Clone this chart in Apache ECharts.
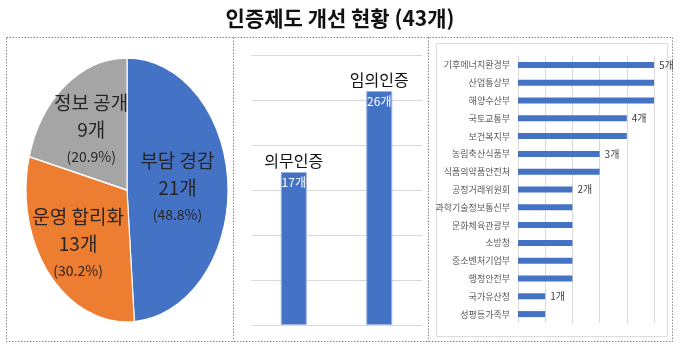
<!DOCTYPE html>
<html><head><meta charset="utf-8">
<script src="https://cdn.jsdelivr.net/npm/echarts@6/dist/echarts.min.js"></script>
<style>html,body{margin:0;padding:0;background:#fff}#c{width:680px;height:351px}</style>
</head><body><div id="c"></div>
<script>
const titleText = '인증제도 개선 현황 (43개)';
const pieNames = ['부담 경감', '운영 합리화', '정보 공개'];
const pieValues = [21, 13, 9];
const certCategories = ['의무인증', '임의인증'];
const certValues = [17, 26];
const ministryNames = ['기후에너지환경부', '산업통상부', '해양수산부', '국토교통부', '보건복지부', '농림축산식품부', '식품의약품안전처', '공정거래위원회', '과학기술정보통신부', '문화체육관광부', '소방청', '중소벤처기업부', '행정안전부', '국가유산청', '성평등가족부'];
const ministryValues = [5, 5, 5, 4, 4, 3, 3, 2, 2, 2, 2, 2, 2, 1, 1];
const ministryLabeled = [true, false, false, true, false, true, false, true, false, false, false, false, false, true, false];

const FONT = '"Noto Sans CJK KR", "Noto Sans", sans-serif';
const pieColors = ['#4472C4', '#ED7D31', '#A5A5A5'];
const pieLabelRadius = [0.5, 0.63, 0.58];
const PIE = {cx: 127, cy: 190, rx: 101, ry: 132};
const total = pieValues.reduce((a, b) => a + b, 0);

function renderPie(params, api) {
  const i = params.dataIndex;
  let before = 0;
  for (let k = 0; k < i; k++) before += pieValues[k];
  const v = api.value(0);
  const a0 = -Math.PI / 2 + before / total * 2 * Math.PI;
  const a1 = a0 + v / total * 2 * Math.PI;
  const mid = (a0 + a1) / 2;
  const f = pieLabelRadius[i];
  const lx = PIE.cx + Math.cos(mid) * PIE.rx * f;
  const ly = PIE.cy + Math.sin(mid) * PIE.ry * f;
  const pct = (v / total * 100).toFixed(1);
  return {
    type: 'group',
    children: [
      {
        type: 'sector', x: PIE.cx, y: PIE.cy, scaleX: PIE.rx / PIE.ry,
        shape: {cx: 0, cy: 0, r0: 0, r: PIE.ry, startAngle: a0, endAngle: a1, clockwise: true},
        style: {fill: pieColors[i], stroke: '#fff', lineWidth: 1.5, strokeNoScale: true}
      },
      {
        type: 'text', x: lx, y: ly, z2: 10,
        style: {
          text: '{a|' + pieNames[i] + '}\n{a|' + v + '개}\n{b|(' + pct + '%)}',
          align: 'center', verticalAlign: 'middle',
          rich: {
            a: {fontSize: 19, lineHeight: 27, fill: '#262626', fontFamily: FONT, align: 'center'},
            b: {fontSize: 14, lineHeight: 26, fill: '#262626', fontFamily: FONT, align: 'center'}
          }
        }
      }
    ]
  };
}

const chart = echarts.init(document.getElementById('c'), null, {renderer: 'canvas'});
chart.setOption({
  animation: false,
  backgroundColor: '#fff',
  textStyle: {fontFamily: FONT},
  graphic: [
    {type: 'text', x: 340, y: 18, style: {text: titleText, fontSize: 21, fontWeight: 'bold', fontFamily: FONT, fill: '#111', align: 'center', verticalAlign: 'middle'}},
    {type: 'rect', shape: {x: 6.5, y: 37.5, width: 666, height: 304}, style: {fill: 'none', stroke: '#8a8a8a', lineWidth: 1, lineDash: [1.5, 1.5]}},
    {type: 'line', shape: {x1: 233.5, y1: 37.5, x2: 233.5, y2: 341.5}, style: {stroke: '#8a8a8a', lineWidth: 1, lineDash: [1.5, 1.5]}},
    {type: 'line', shape: {x1: 428.5, y1: 37.5, x2: 428.5, y2: 341.5}, style: {stroke: '#8a8a8a', lineWidth: 1, lineDash: [1.5, 1.5]}},
    {type: 'rect', shape: {x: 436.5, y: 43.5, width: 231, height: 293}, style: {fill: 'none', stroke: '#dcdcdc', lineWidth: 1}}
  ],
  grid: [
    {left: 251, right: 258, top: 55, bottom: 26},
    {left: 518, right: 26, top: 56, bottom: 28}
  ],
  xAxis: [
    {gridIndex: 0, type: 'category', data: certCategories, axisLine: {show: false}, axisTick: {show: false}, axisLabel: {show: false}},
    {gridIndex: 1, type: 'value', min: 0, max: 5, interval: 1, axisLine: {show: false}, axisTick: {show: false}, axisLabel: {show: false},
      splitLine: {lineStyle: {color: '#d9d9d9', width: 1}}}
  ],
  yAxis: [
    {gridIndex: 0, type: 'value', min: 0, max: 30, interval: 5, axisLine: {show: false}, axisTick: {show: false}, axisLabel: {show: false},
      splitLine: {lineStyle: {color: '#d9d9d9', width: 1}}},
    {gridIndex: 1, type: 'category', inverse: true, data: ministryNames, axisLine: {show: false}, axisTick: {show: false},
      axisLabel: {fontSize: 9, color: '#595959', margin: 8, fontFamily: FONT}}
  ],
  series: [
    {
      type: 'custom', coordinateSystem: 'none', renderItem: renderPie,
      data: pieValues.map((v, i) => ({value: v, name: pieNames[i]}))
    },
    {
      type: 'bar', xAxisIndex: 0, yAxisIndex: 0, data: certValues, barWidth: 26,
      itemStyle: {color: '#4472C4', borderColor: '#9db4e0', borderWidth: 1},
      label: {show: true, position: 'insideTop', distance: 4, formatter: '{c}개', color: '#fff', fontSize: 12, fontFamily: FONT}
    },
    {
      type: 'bar', xAxisIndex: 0, yAxisIndex: 0, data: certValues, barWidth: 26, barGap: '-100%', z: 1,
      itemStyle: {color: 'rgba(0,0,0,0)'},
      label: {show: true, position: 'top', distance: 3, formatter: '{b}', color: '#111', fontSize: 16, fontFamily: FONT}
    },
    {
      type: 'bar', xAxisIndex: 1, yAxisIndex: 1, data: ministryValues, barWidth: 6,
      itemStyle: {color: '#4472C4'},
      label: {show: true, position: 'right', distance: 5, color: '#404040', fontSize: 10, fontFamily: FONT,
        formatter: p => ministryLabeled[p.dataIndex] ? p.value + '개' : ''}
    }
  ]
});
</script>
</body></html>
